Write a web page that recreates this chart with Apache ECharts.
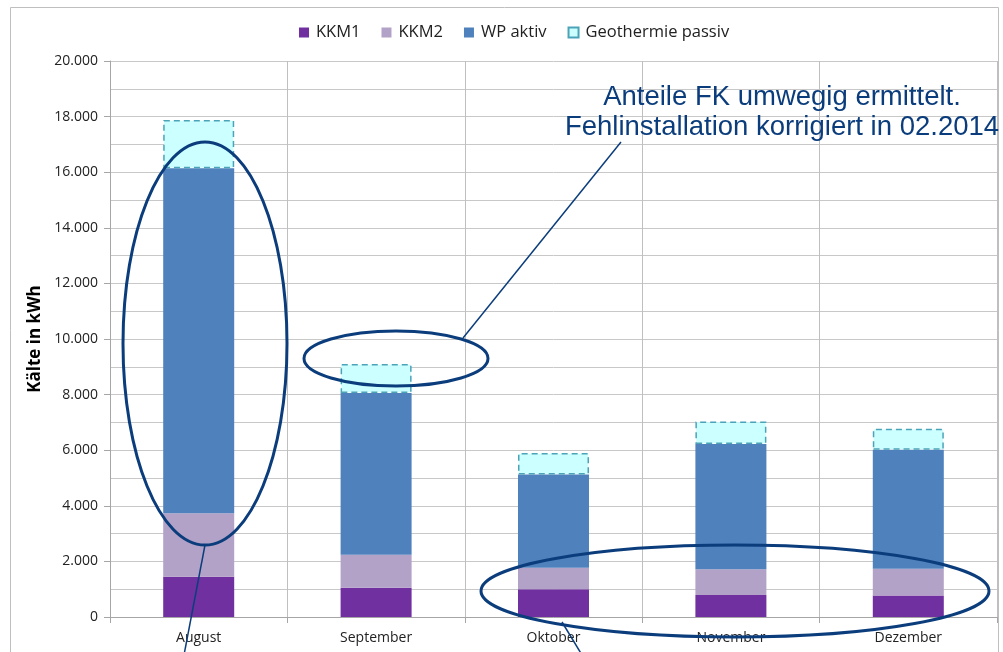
<!DOCTYPE html>
<html>
<head>
<meta charset="utf-8">
<script src="https://cdn.jsdelivr.net/npm/echarts@6/dist/echarts.min.js"></script>
<style>
  html, body { margin: 0; padding: 0; background: #fff; }
  #chart { width: 1003px; height: 652px; }
</style>
</head>
<body>
<div id="chart"></div>
<script>
const categories = ['August', 'September', 'Oktober', 'November', 'Dezember'];
const kkm1 = [1450, 1050, 1000, 790, 770];
const kkm2 = [2280, 1190, 770, 930, 970];
const wpAktiv = [12410, 5820, 3360, 4500, 4280];
const geoPassiv = [1740, 1040, 770, 810, 750];
const yTicks = { min: 0, max: 20000, interval: 2000 };
const annotationLines = ['Anteile FK umwegig ermittelt.', 'Fehlinstallation korrigiert in 02.2014'];

const navy = '#0b3d7c';
const chart = echarts.init(document.getElementById('chart'), null, { renderer: 'canvas' });

function fmt(v) {
  return String(v).replace(/\B(?=(\d{3})+(?!\d))/g, '.');
}

const annFont = '27.5px "Liberation Sans", Arial, sans-serif';

const option = {
  animation: false,
  textStyle: { fontFamily: 'Open Sans' },
  legend: {
    top: 19,
    left: 294,
    icon: 'rect',
    itemWidth: 10,
    itemHeight: 10,
    itemGap: 21,
    textStyle: { fontSize: 16.5, color: '#222', fontFamily: 'Open Sans', padding: [0, 0, 0, 2] },
    data: ['KKM1', 'KKM2', 'WP aktiv', 'Geothermie passiv']
  },
  grid: { left: 110, right: 6, top: 61, bottom: 35, containLabel: false },
  xAxis: {
    type: 'category',
    data: categories,
    boundaryGap: true,
    axisLine: { lineStyle: { color: '#a6a6a6', width: 1 } },
    axisTick: { show: true, length: 6, lineStyle: { color: '#a6a6a6' } },
    axisLabel: { fontSize: 14, color: '#222', margin: 14, fontFamily: 'Open Sans' },
    splitLine: { show: true, lineStyle: { color: '#bfbfbf', width: 1 } }
  },
  yAxis: {
    type: 'value',
    min: yTicks.min,
    max: yTicks.max,
    interval: yTicks.interval,
    name: 'Kälte in kWh',
    nameLocation: 'middle',
    nameGap: 52,
    nameTextStyle: { fontSize: 17, fontWeight: 'bold', color: '#000', fontFamily: 'Open Sans' },
    axisLine: { show: true, lineStyle: { color: '#a6a6a6' } },
    axisTick: { show: true, length: 6, lineStyle: { color: '#a6a6a6' } },
    axisLabel: { fontSize: 14, color: '#222', margin: 12, formatter: fmt, fontFamily: 'Open Sans' },
    splitLine: { show: true, lineStyle: { color: '#c8c8c8' } },
    minorTick: { show: false, splitNumber: 2 },
    minorSplitLine: { show: true, lineStyle: { color: '#c8c8c8' } }
  },
  series: [
    { name: 'KKM1', type: 'bar', stack: 'k', barWidth: 71, data: kkm1,
      itemStyle: { color: '#7030a0' } },
    { name: 'KKM2', type: 'bar', stack: 'k', data: kkm2,
      itemStyle: { color: '#b3a2c7' } },
    { name: 'WP aktiv', type: 'bar', stack: 'k', data: wpAktiv,
      itemStyle: { color: '#4f81bd' } },
    { name: 'Geothermie passiv', type: 'bar', stack: 'k', data: geoPassiv,
      itemStyle: { color: '#ccffff', borderColor: '#4ba3b8', borderWidth: 1.5, borderType: [6, 4] } }
  ],
  graphic: [
    { type: 'rect', silent: true, z: 0, shape: { x: 10.5, y: 7.5, width: 988, height: 700 },
      style: { fill: 'none', stroke: '#bfbfbf', lineWidth: 1 } },
    { type: 'text', z: 100, x: 782, y: 97,
      style: { text: annotationLines[0], fill: navy, font: annFont,
        textAlign: 'center', textVerticalAlign: 'middle' } },
    { type: 'text', z: 100, x: 782, y: 127,
      style: { text: annotationLines[1], fill: navy, font: annFont,
        textAlign: 'center', textVerticalAlign: 'middle' } },
    { type: 'ellipse', z: 100, silent: true, shape: { cx: 205, cy: 343.5, rx: 82, ry: 201.5 },
      style: { fill: 'none', stroke: navy, lineWidth: 3 } },
    { type: 'ellipse', z: 100, silent: true, shape: { cx: 396, cy: 358.5, rx: 92, ry: 27.5 },
      style: { fill: 'none', stroke: navy, lineWidth: 3 } },
    { type: 'ellipse', z: 100, silent: true, shape: { cx: 735, cy: 591, rx: 254, ry: 46 },
      style: { fill: 'none', stroke: navy, lineWidth: 3 } },
    { type: 'line', z: 100, silent: true, shape: { x1: 205, y1: 545, x2: 184, y2: 655 },
      style: { stroke: navy, lineWidth: 1.5 } },
    { type: 'line', z: 100, silent: true, shape: { x1: 463, y1: 338, x2: 621, y2: 142 },
      style: { stroke: navy, lineWidth: 1.5 } },
    { type: 'line', z: 100, silent: true, shape: { x1: 562, y1: 622, x2: 582, y2: 655 },
      style: { stroke: navy, lineWidth: 1.5 } }
  ]
};
chart.setOption(option);
</script>
</body>
</html>
